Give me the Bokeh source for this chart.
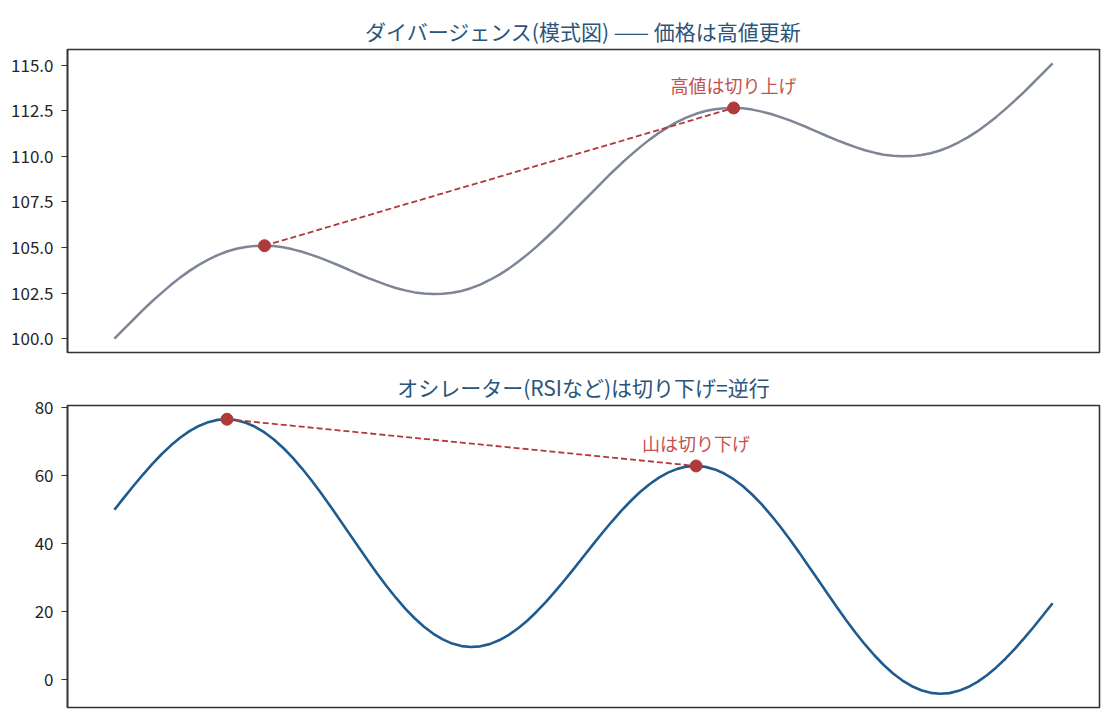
from bokeh.plotting import figure
from bokeh.layouts import column
from bokeh.models import Range1d, FixedTicker, PrintfTickFormatter
from bokeh.core.properties import value
from bokeh.embed import file_html
from bokeh.resources import INLINE

JP = "Noto Sans CJK JP"

# x positions of the sampled points
x = list(range(0, 101))

# price: rising with two tops
price = [100.00, 100.52, 101.04, 101.55, 102.04, 102.50, 102.94, 103.35, 103.72, 104.05,
         104.34, 104.58, 104.78, 104.93, 105.03, 105.09, 105.10, 105.08, 105.01, 104.90,
         104.77, 104.60, 104.42, 104.21, 104.00, 103.78, 103.55, 103.34, 103.14, 102.95,
         102.78, 102.65, 102.54, 102.48, 102.45, 102.46, 102.52, 102.62, 102.77, 102.97,
         103.22, 103.50, 103.83, 104.21, 104.61, 105.05, 105.52, 106.00, 106.51, 107.03,
         107.55, 108.07, 108.59, 109.10, 109.59, 110.05, 110.49, 110.90, 111.27, 111.60,
         111.89, 112.13, 112.33, 112.48, 112.58, 112.64, 112.65, 112.63, 112.56, 112.45,
         112.32, 112.15, 111.97, 111.76, 111.55, 111.33, 111.10, 110.89, 110.69, 110.50,
         110.33, 110.20, 110.09, 110.03, 110.00, 110.01, 110.07, 110.17, 110.32, 110.52,
         110.77, 111.05, 111.38, 111.76, 112.16, 112.60, 113.07, 113.55, 114.06, 114.58,
         115.10]

# oscillator (RSI-like)
osc = [50.00, 53.49, 56.91, 60.22, 63.35, 66.26, 68.89, 71.20, 73.13, 74.67,
       75.78, 76.45, 76.64, 76.37, 75.62, 74.41, 72.74, 70.66, 68.17, 65.32,
       62.13, 58.68, 54.99, 51.14, 47.16, 43.13, 39.09, 35.12, 31.26, 27.58,
       24.12, 20.94, 18.08, 15.60, 13.51, 11.85, 10.63, 9.89, 9.61, 9.81,
       10.47, 11.59, 13.12, 15.06, 17.36, 20.00, 22.90, 26.04, 29.34, 32.77,
       36.25, 39.74, 43.16, 46.47, 49.60, 52.51, 55.14, 57.45, 59.38, 60.92,
       62.03, 62.70, 62.89, 62.62, 61.87, 60.66, 58.99, 56.91, 54.42, 51.57,
       48.38, 44.93, 41.24, 37.39, 33.41, 29.38, 25.34, 21.37, 17.51, 13.83,
       10.37, 7.19, 4.33, 1.85, -0.24, -1.91, -3.12, -3.87, -4.14, -3.95,
       -3.28, -2.17, -0.63, 1.31, 3.61, 6.25, 9.15, 12.29, 15.59, 19.02,
       22.50]

price_peaks_x = [16, 66]
price_peaks_y = [105.10, 112.65]
osc_peaks_x = [12, 62]
osc_peaks_y = [76.64, 62.89]

price_ticks = [100.0, 102.5, 105.0, 107.5, 110.0, 112.5, 115.0]
osc_ticks = [0, 20, 40, 60, 80]

title_top = "ダイバージェンス(模式図) —— 価格は高値更新"
title_bottom = "オシレーター(RSIなど)は切り下げ=逆行"
note_top = "高値は切り上げ"
note_bottom = "山は切り下げ"

RED = "#b03a3a"
NOTE = "#c45252"
TITLE_C = "#2b5478"


def make_panel(title, height, border_top, border_bottom, yr, ticks, fmt):
    p = figure(width=1112, height=height, output_backend="svg", toolbar_location=None,
               x_range=Range1d(-5, 105), y_range=yr, tools="",
               min_border_left=67, min_border_right=13,
               min_border_top=border_top, min_border_bottom=border_bottom)
    p.title.text = title
    p.title.align = "center"
    p.title.text_font = JP
    p.title.text_font_size = "21px"
    p.title.text_font_style = "normal"
    p.title.text_color = TITLE_C
    p.title.standoff = 8
    p.xaxis.visible = False
    p.xgrid.visible = False
    p.ygrid.visible = False
    p.outline_line_color = "#333333"
    p.outline_line_width = 1.6
    p.outline_line_alpha = 1.0
    ax = p.yaxis[0]
    ax.ticker = FixedTicker(ticks=ticks)
    ax.formatter = PrintfTickFormatter(format=fmt)
    ax.minor_tick_line_color = None
    ax.major_tick_out = 6
    ax.major_tick_in = 0
    ax.major_tick_line_color = "#333333"
    ax.major_tick_line_width = 1.2
    ax.axis_line_color = "#333333"
    ax.axis_line_width = 1.6
    ax.major_label_text_font = JP
    ax.major_label_text_font_size = "17px"
    ax.major_label_text_color = "#262626"
    ax.major_label_standoff = 8
    return p


p1 = make_panel(title_top, 362, 49, 10, Range1d(99.245, 115.855), price_ticks, "%.1f")
p1.line(x, price, line_color="#7d8597", line_width=2.5)
p1.line(price_peaks_x, price_peaks_y, line_color=RED, line_width=1.8, line_dash="6 3")
p1.scatter(price_peaks_x, price_peaks_y, size=12, fill_color=RED, line_color=RED)
p1.text(x=[price_peaks_x[1]], y=[price_peaks_y[1]], text=[note_top], text_align="center",
        text_baseline="bottom", y_offset=-10, text_font=value(JP), text_font_size="18px",
        text_color=NOTE)

p2 = make_panel(title_bottom, 350, 43, 5, Range1d(-8.18, 80.68), osc_ticks, "%d")
p2.line(x, osc, line_color="#1f5b8e", line_width=2.6)
p2.line(osc_peaks_x, osc_peaks_y, line_color=RED, line_width=1.8, line_dash="6 3")
p2.scatter(osc_peaks_x, osc_peaks_y, size=12, fill_color=RED, line_color=RED)
p2.text(x=[osc_peaks_x[1]], y=[osc_peaks_y[1]], text=[note_bottom], text_align="center",
        text_baseline="bottom", y_offset=-10, text_font=value(JP), text_font_size="18px",
        text_color=NOTE)

layout = column(p1, p2, spacing=0)
open("out.html", "w").write(file_html(layout, INLINE))
